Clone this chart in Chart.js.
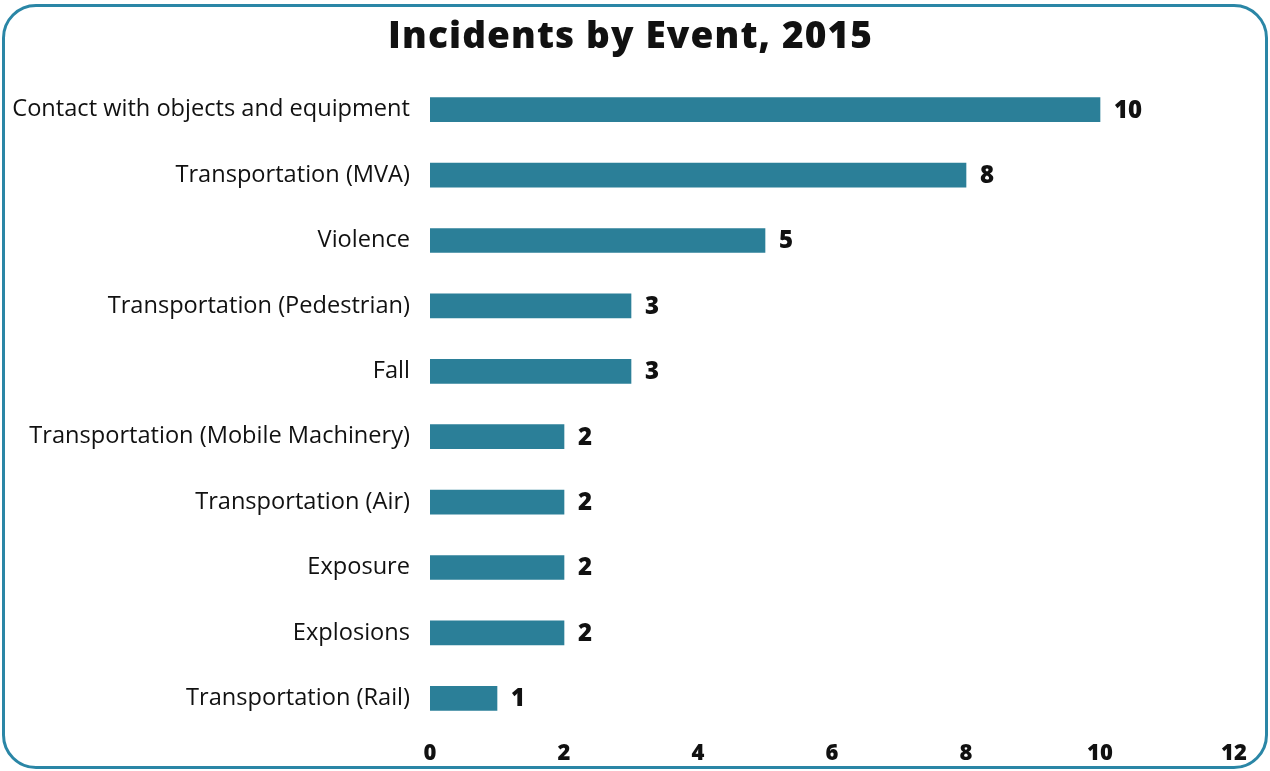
<!DOCTYPE html>
<html><head><meta charset="utf-8">
<script src="https://cdn.jsdelivr.net/npm/chart.js@4/dist/chart.umd.min.js"></script>
<style>
html,body{margin:0;padding:0;background:#fff;}
#wrap{position:relative;width:1270px;height:771px;}
#frame{position:absolute;left:2px;top:4px;width:1260px;height:759px;border:3px solid #2a86a6;border-radius:34px;pointer-events:none;}
canvas{position:absolute;left:0;top:0;}
</style></head>
<body>
<div id="wrap"><canvas id="c" width="1270" height="771"></canvas><div id="frame"></div></div>
<script>
const titleText = 'Incidents by Event, 2015';
const categories = ["Contact with objects and equipment","Transportation (MVA)","Violence","Transportation (Pedestrian)","Fall","Transportation (Mobile Machinery)","Transportation (Air)","Exposure","Explosions","Transportation (Rail)"];
const incidents = [10,8,5,3,3,2,2,2,2,1];
const xTicks = [0,2,4,6,8,10,12];

const valueLabels = {
  id:'valueLabels',
  afterDatasetsDraw(chart){
    const ctx = chart.ctx;
    const meta = chart.getDatasetMeta(0);
    ctx.save();
    ctx.font = '800 24px "Open Sans"';
    ctx.fillStyle = '#111';
    ctx.textAlign = 'left';
    ctx.textBaseline = 'middle';
    meta.data.forEach((bar,i)=>{
      ctx.fillText(String(incidents[i]), bar.x + 14, bar.y + 1);
    });
    ctx.restore();
  }
};

const titleDraw = {
  id:'titleDraw',
  afterDraw(chart){
    const ctx = chart.ctx;
    ctx.save();
    ctx.font = '800 37px "Open Sans"';
    ctx.fillStyle = '#111';
    ctx.textAlign = 'left';
    ctx.textBaseline = 'alphabetic';
    const target = 484;
    const w = ctx.measureText(titleText).width;
    const ls = Math.max(0,(target - w)/(titleText.length-1));
    ctx.letterSpacing = ls + 'px';
    ctx.fillText(titleText, 630 - target/2, 48);
    ctx.restore();
  }
};

new Chart(document.getElementById('c'),{
  type:'bar',
  data:{labels:categories,datasets:[{data:incidents,backgroundColor:'#2b7f98',barThickness:24}]},
  options:{
    indexAxis:'y',
    responsive:false,
    animation:false,
    layout:{padding:{left:0,right:36,top:77,bottom:0}},
    plugins:{
      legend:{display:false},
      tooltip:{enabled:false},
      title:{display:false}
    },
    scales:{
      x:{min:0,max:12,
        afterBuildTicks(s){s.ticks = xTicks.map(v=>({value:v}));},
        afterFit(s){s.height = 40;},
        grid:{display:false,drawTicks:false},border:{display:false},
        ticks:{color:'#111',padding:10,font:{family:'"Open Sans"',size:22,weight:'800'}}},
      y:{
        afterFit(s){s.width = 430;},
        grid:{display:false,drawTicks:false},border:{display:false},
        ticks:{color:'#111',padding:20,font:{family:'"Open Sans"',size:23.6}}}
    }
  },
  plugins:[valueLabels,titleDraw]
});
</script>
</body></html>
